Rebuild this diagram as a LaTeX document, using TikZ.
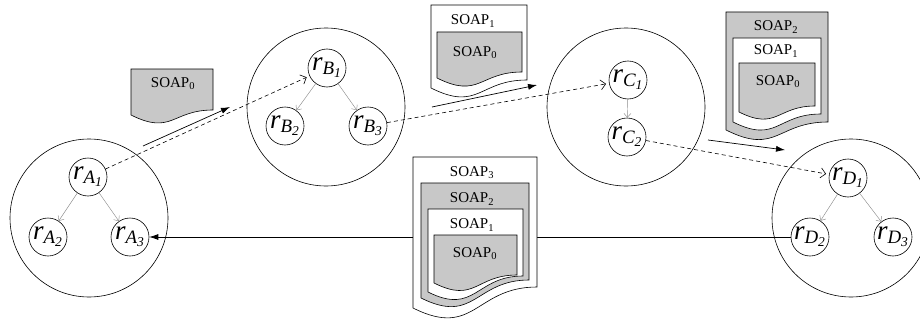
\documentclass[tikz,border=0pt]{standalone}
\usepackage{amsmath}
\usepackage{fontspec}
\setmainfont{Liberation Serif}
\usetikzlibrary{shapes,arrows.meta}
\definecolor{soapgray}{RGB}{200,200,200}
\tikzstyle{site} = [circle, draw, line width=0.6pt, minimum size=158pt, inner sep=0pt]
\tikzstyle{res} = [circle, draw, line width=0.6pt, minimum size=38pt, inner sep=0pt,
    font=\fontsize{27}{29}\selectfont]
\tikzstyle{tree} = [draw, gray!90, line width=0.45pt, -{Straight Barb[length=4pt,width=7pt]}]
\tikzstyle{call} = [draw, dashed, dash pattern=on 4pt off 3pt, line width=0.6pt,
    -{Straight Barb[length=5pt,width=10pt]}, shorten >=3pt]
\tikzstyle{msg} = [draw, line width=0.7pt, -{Latex[length=9pt,width=6pt]}]
\tikzstyle{soap} = [font=\fontsize{15}{17}\selectfont, inner sep=0pt]
% resource label r_{X_i}
\newcommand{\rlab}[2]{$\textit{r}_{\textit{#1}_{\textit{#2}}}$}
% SOAP envelope: fill, left, top, right, bottom left, bottom right
\newcommand{\soapdoc}[6]{%
  \filldraw[fill=#1, line width=0.6pt] (#2,#3) -- (#4,#3) -- (#4,#6)
    .. controls ({(#2+#4)/2},#6) and ({(#2+#4)/2},{#5+0.25*(#4-#2)}) .. (#2,#5) -- cycle;}

\begin{document}
\begin{tikzpicture}[x=1pt, y=-1pt]
			\useasboundingbox (0,0) rectangle (920,321);
			\clip (0,0) rectangle (920,321);
			% Place nodes
			\node [site] (sa) at (89,218) {};
			\node [site] (sb) at (326,107) {};
			\node [site] (sc) at (626,107) {};
			\node [site] (sd) at (851,218) {};
			\node [res] (ra1) at (88,177) {\rlab{A}{1}};
			\node [res] (ra2) at (48,237) {\rlab{A}{2}};
			\node [res] (ra3) at (130,237) {\rlab{A}{3}};
			\node [res] (rb1) at (327,68) {\rlab{B}{1}};
			\node [res] (rb2) at (285,126) {\rlab{B}{2}};
			\node [res] (rb3) at (368,126) {\rlab{B}{3}};
			\node [res] (rc1) at (628,80) {\rlab{C}{1}};
			\node [res] (rc2) at (627,137) {\rlab{C}{2}};
			\node [res] (rd1) at (848,178) {\rlab{D}{1}};
			\node [res] (rd2) at (810,237) {\rlab{D}{2}};
			\node [res] (rd3) at (893,237) {\rlab{D}{3}};
			\coordinate (m1s) at (143,146);
			\coordinate (m1e) at (230,107);
			\coordinate (m2s) at (432,107);
			\coordinate (m2e) at (537,85);
			\coordinate (m3s) at (708,140);
			\coordinate (m3e) at (785,150);
			% Draw edges
			\path [tree] (ra1) -- (ra2);
			\path [tree] (ra1) -- (ra3);
			\path [tree] (rb1) -- (rb2);
			\path [tree] (rb1) -- (rb3);
			\path [tree] (rc1) -- (rc2);
			\path [tree] (rd1) -- (rd2);
			\path [tree] (rd1) -- (rd3);
			\path [call] (ra1) -- (rb1);
			\path [call] (rb3) -- (rc1);
			\path [call] (rc2) -- (rd1);
			\path [msg] (m1s) -- (m1e);
			\path [msg] (m2s) -- (m2e);
			\path [msg] (m3s) -- (m3e);
			\path [msg] (rd2.west) -- (ra3.east);
			% Messages
			\soapdoc{soapgray}{131}{69}{213}{115}{110}
			\node [soap] (p0) at (173,84) {SOAP\textsubscript{0}};
			\soapdoc{white}{431}{5}{527}{88}{80}
			\node [soap] (q1) at (473,21) {SOAP\textsubscript{1}};
			\soapdoc{soapgray}{437}{32}{522}{78}{72}
			\node [soap] (q0) at (475,53) {SOAP\textsubscript{0}};
			\soapdoc{soapgray}{726}{12}{828}{130}{122}
			\node [soap] (s2) at (776,27) {SOAP\textsubscript{2}};
			\soapdoc{white}{733}{38}{821}{122}{114}
			\node [soap] (s1) at (776,51) {SOAP\textsubscript{1}};
			\soapdoc{soapgray}{739}{63}{815}{112}{106}
			\node [soap] (s0) at (778,82) {SOAP\textsubscript{0}};
			\soapdoc{white}{413}{157}{537}{308}{287}
			\node [soap] (t3) at (472,173) {SOAP\textsubscript{3}};
			\soapdoc{soapgray}{421}{183}{529}{298}{280}
			\node [soap] (t2) at (472,199) {SOAP\textsubscript{2}};
			\soapdoc{white}{428}{209}{523}{292}{276}
			\node [soap] (t1) at (472,225) {SOAP\textsubscript{1}};
			\soapdoc{soapgray}{434}{235}{517}{283}{275}
			\node [soap] (t0) at (475,254) {SOAP\textsubscript{0}};
\end{tikzpicture}
\end{document}
